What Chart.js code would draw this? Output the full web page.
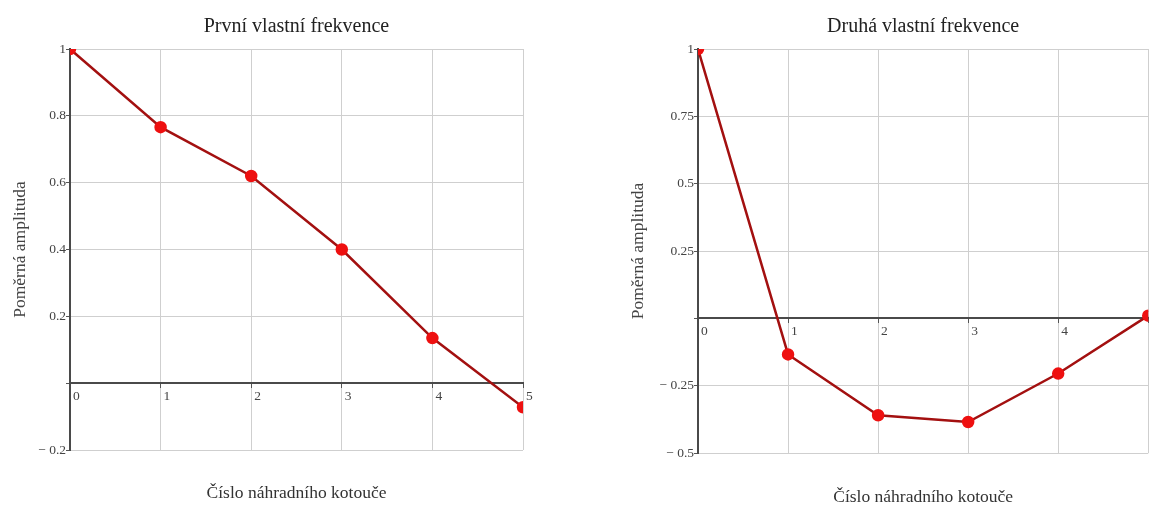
<!DOCTYPE html>
<html>
<head>
<meta charset="utf-8">
<script src="https://cdn.jsdelivr.net/npm/chart.js@4"></script>
<style>
  body { margin: 0; background: #fff; overflow: hidden; }
  .box { position: absolute; top: 0; height: 511px; }
</style>
</head>
<body>
<div class="box" style="left:0; width:575px"><canvas id="firstChart"></canvas></div>
<div class="box" style="left:575px; width:581px"><canvas id="secondChart"></canvas></div>
<script>
// cislo nahradniho kotouce
const disks = [0, 1, 2, 3, 4, 5];
// pomerna amplituda - prvni vlastni frekvence
const first_amp = [1, 0.766, 0.62, 0.40, 0.135, -0.072];
// pomerna amplituda - druha vlastni frekvence
const second_amp = [1, -0.134, -0.36, -0.385, -0.205, 0.01];

const first_y_ticks = [-0.2, 1, 0.2];
const second_y_ticks = [-0.5, 1, 0.25];

const serif = "'Liberation Serif', 'DejaVu Serif', serif";

function fmt(v){
  if (Math.abs(v) < 1e-9) return '';
  const s = parseFloat(Math.abs(v).toFixed(2)).toString();
  return v < 0 ? '\u2212 ' + s : s;
}

// center title + bottom caption over the plot area, like in Mathcad
const centerTitles = {
  id: 'centerTitles',
  afterLayout(chart){
    const a = chart.chartArea;
    chart.boxes.forEach(b => {
      if (b.options && b.options.text && !b.axis){
        b.left = a.left;
        b.right = a.right;
        b.width = a.right - a.left;
      }
    });
  }
};

function makeChart(el, title, ys, yTicks, yWidth, pad){
  const points = disks.map((d, i) => ({x: d, y: ys[i]}));
  return new Chart(el.getContext('2d'), {
    type: 'line',
    data: {
      datasets: [{
        data: points,
        borderColor: '#a31010',
        borderWidth: 2.5,
        pointBackgroundColor: '#ee1010',
        pointBorderColor: '#ee1010',
        pointRadius: 5,
        tension: 0
      }]
    },
    options: {
      responsive: true,
      maintainAspectRatio: false,
      animation: false,
      layout: { padding: pad },
      plugins: {
        legend: { display: false },
        tooltip: { enabled: false },
        title: {
          display: true,
          text: title,
          color: '#222',
          font: { family: serif, size: 20, weight: 'normal' },
          padding: { top: 15, bottom: 10 }
        },
        subtitle: {
          display: true,
          position: 'bottom',
          text: 'Číslo náhradního kotouče',
          color: '#333',
          font: { family: serif, size: 17.5, weight: 'normal' },
          padding: { top: pad.sub, bottom: pad.subB }
        }
      },
      scales: {
        x: {
          type: 'linear',
          position: { y: 0 },
          min: 0,
          max: 5,
          ticks: {
            stepSize: 1,
            align: 'start',
            labelOffset: 3,
            padding: 1,
            color: '#444',
            font: { family: serif, size: 13.5 }
          },
          grid: { color: '#cfcfcf', lineWidth: 1, tickLength: 4, tickColor: '#555' },
          border: { color: '#4a4a4a', width: 2 }
        },
        y: {
          min: yTicks[0],
          max: yTicks[1],
          afterFit: (s) => { s.width = yWidth; },
          ticks: {
            stepSize: yTicks[2],
            padding: 0,
            color: '#444',
            font: { family: serif, size: 13.5 },
            callback: (v) => fmt(v)
          },
          grid: { color: '#cfcfcf', lineWidth: 1, tickLength: 4, tickColor: '#555' },
          border: { color: '#4a4a4a', width: 2 },
          title: {
            display: true,
            text: 'Poměrná amplituda',
            color: '#444',
            font: { family: serif, size: 17.5 },
            padding: { top: 0, bottom: 0 }
          }
        }
      }
    },
    plugins: [centerTitles]
  });
}

makeChart(document.getElementById('firstChart'), 'První vlastní frekvence',
  first_amp, first_y_ticks, 60, { left: 10, right: 52, top: 0, bottom: 0, sub: 32.5, subB: 7.5 });
makeChart(document.getElementById('secondChart'), 'Druhá vlastní frekvence',
  second_amp, second_y_ticks, 70, { left: 53, right: 2, top: 0, bottom: 0, sub: 33.5, subB: 3.5 });
</script>
</body>
</html>
